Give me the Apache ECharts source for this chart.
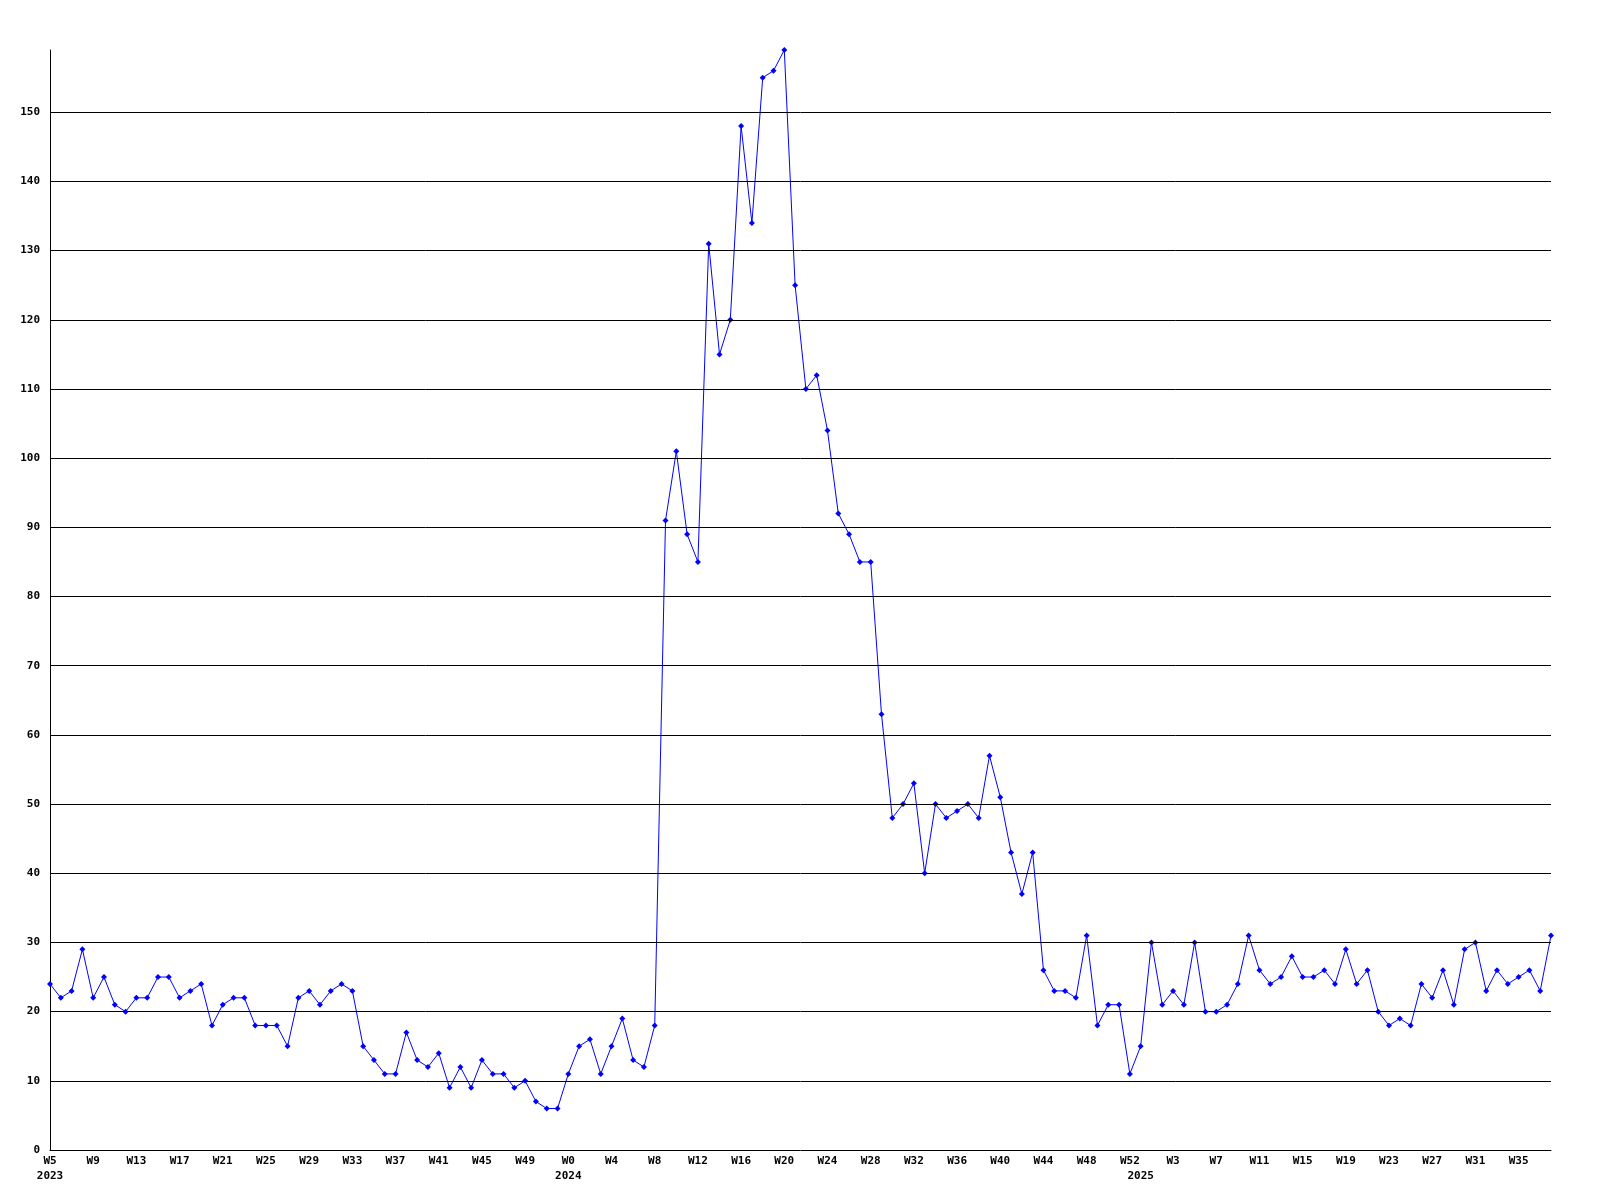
<!DOCTYPE html>
<html>
<head>
<meta charset="utf-8">
<script src="https://cdn.jsdelivr.net/npm/echarts@6/dist/echarts.min.js"></script>
<style>
html,body{margin:0;padding:0;background:#fff;}
#c{width:1600px;height:1200px;}
</style>
</head>
<body>
<div id="c"></div>
<script>
const weeks2023 = ["W5","W6","W7","W8","W9","W10","W11","W12","W13","W14","W15","W16","W17","W18","W19","W20","W21","W22","W23","W24","W25","W26","W27","W28","W29","W30","W31","W32","W33","W34","W35","W36","W37","W38","W39","W40","W41","W42","W43","W44","W45","W46","W47","W48","W49","W50","W51","W52"];
const weeks2024 = ["W0","W1","W2","W3","W4","W5","W6","W7","W8","W9","W10","W11","W12","W13","W14","W15","W16","W17","W18","W19","W20","W21","W22","W23","W24","W25","W26","W27","W28","W29","W30","W31","W32","W33","W34","W35","W36","W37","W38","W39","W40","W41","W42","W43","W44","W45","W46","W47","W48","W49","W50","W51","W52"];
const weeks2025 = ["W0","W1","W2","W3","W4","W5","W6","W7","W8","W9","W10","W11","W12","W13","W14","W15","W16","W17","W18","W19","W20","W21","W22","W23","W24","W25","W26","W27","W28","W29","W30","W31","W32","W33","W34","W35","W36","W37","W38"];

const values2023 = [24,22,23,29,22,25,21,20,22,22,25,25,22,23,24,18,21,22,22,18,18,18,15,22,23,21,23,24,23,15,13,11,11,17,13,12,14,9,12,9,13,11,11,9,10,7,6,6];
const values2024 = [11,15,16,11,15,19,13,12,18,91,101,89,85,131,115,120,148,134,155,156,159,125,110,112,104,92,89,85,85,63,48,50,53,40,50,48,49,50,48,57,51,43,37,43,26,23,23,22,31,18,21,21,11];
const values2025 = [15,30,21,23,21,30,20,20,21,24,31,26,24,25,28,25,25,26,24,29,24,26,20,18,19,18,24,22,26,21,29,30,23,26,24,25,26,23,31];

const yTicks = [0,10,20,30,40,50,60,70,80,90,100,110,120,130,140,150];

const categories = [];
const yearOf = [];
const firstOfYear = [];
[[2023,weeks2023],[2024,weeks2024],[2025,weeks2025]].forEach(([y,ws])=>{
  ws.forEach((w,i)=>{ categories.push(w); yearOf.push(y); firstOfYear.push(i===0); });
});
const values = values2023.concat(values2024, values2025);

const font = '"DejaVu Sans Mono", monospace';
const chart = echarts.init(document.getElementById('c'), null, {renderer:'canvas'});
chart.setOption({
  animation:false,
  backgroundColor:'#ffffff',
  grid:{left:50,right:49,top:50,bottom:50,containLabel:false},
  xAxis:{
    type:'category',
    data:categories,
    boundaryGap:false,
    axisLine:{show:true,lineStyle:{color:'#000',width:1}},
    axisTick:{show:false},
    splitLine:{show:false},
    axisLabel:{
      interval:function(i){ return i%4===0 || firstOfYear[i]; },
      formatter:function(v,i){
        const w = (i%4===0) ? v : '';
        return firstOfYear[i] ? (w + '\n' + yearOf[i]) : w;
      },
      align:'center',
      verticalAlign:'top',
      margin:4,
      lineHeight:15,
      color:'#000',
      fontFamily:font,
      fontWeight:'bold',
      fontSize:11
    }
  },
  yAxis:{
    type:'value',
    min:0,
    max:159,
    interval:10,
    axisLine:{show:true,lineStyle:{color:'#000',width:1}},
    axisTick:{show:false},
    splitLine:{show:false},
    axisLabel:{
      showMaxLabel:false,
      margin:10,
      color:'#000',
      fontFamily:font,
      fontWeight:'bold',
      fontSize:11
    }
  },
  series:[{
    type:'line',
    data:values,
    smooth:false,
    symbol:'diamond',
    symbolSize:6,
    showAllSymbol:true,
    lineStyle:{color:'#0000ff',width:1},
    itemStyle:{color:'#0000ff'},
    markLine:{
      silent:true,
      symbol:['none','none'],
      label:{show:false},
      lineStyle:{color:'#000',width:1,type:'solid'},
      data:yTicks.filter(t=>t>0).map(t=>({yAxis:t}))
    },
    z:3
  }]
});
</script>
</body>
</html>
